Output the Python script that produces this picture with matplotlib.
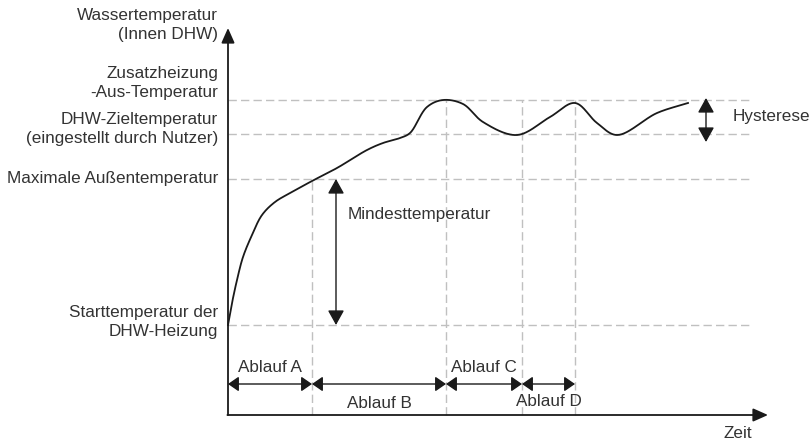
import numpy as np
import matplotlib
matplotlib.use("Agg")
import matplotlib.pyplot as plt

plt.rcParams['font.family'] = ['Liberation Sans', 'DejaVu Sans']

# ---- data (time units / temperature units, schematic) ----
curve_t = [0, 4, 9, 15, 24, 34, 47, 64, 84, 109, 139, 155, 172, 182, 199, 215, 235,
           255, 289, 322, 347, 369, 389, 429, 460]
curve_T = [90, 112, 135, 158, 180, 200, 213, 223, 234, 247, 265, 272, 277, 282, 308,
           315, 311, 293, 280, 298, 312, 292, 280, 302, 312]

level_names = ["Starttemperatur der\nDHW-Heizung", "Maximale Außentemperatur",
               "DHW-Zieltemperatur\n(eingestellt durch Nutzer)",
               "Zusatzheizung\n-Aus-Temperatur"]
level_values = [90, 236, 281, 315]
level_label_pos = [93, 237, 286, 332]

phase_names = ["Ablauf A", "Ablauf B", "Ablauf C", "Ablauf D"]
phase_bounds = [0, 84, 218, 294, 347]

x_end = 540
y_end = 387
grid_end = 525

TXT = '#333333'
GRID = '#c0c0c0'
INK = '#1a1a1a'
FS = 12.3
LS = 1.28


def catmull_rom(x, y, n=30, alpha=0.5):
    P = np.column_stack([np.asarray(x, float), np.asarray(y, float)])
    P = np.vstack([P[0] - (P[1] - P[0]), P, P[-1] + (P[-1] - P[-2])])
    out = []
    for i in range(1, len(P) - 2):
        p0, p1, p2, p3 = P[i - 1], P[i], P[i + 1], P[i + 2]
        t0 = 0.0
        t1 = t0 + np.linalg.norm(p1 - p0) ** alpha
        t2 = t1 + np.linalg.norm(p2 - p1) ** alpha
        t3 = t2 + np.linalg.norm(p3 - p2) ** alpha
        t = np.linspace(t1, t2, n, endpoint=False)[:, None]
        A1 = (t1 - t) / (t1 - t0) * p0 + (t - t0) / (t1 - t0) * p1
        A2 = (t2 - t) / (t2 - t1) * p1 + (t - t1) / (t2 - t1) * p2
        A3 = (t3 - t) / (t3 - t2) * p2 + (t - t2) / (t3 - t2) * p3
        B1 = (t2 - t) / (t2 - t0) * A1 + (t - t0) / (t2 - t0) * A2
        B2 = (t3 - t) / (t3 - t1) * A2 + (t - t1) / (t3 - t1) * A3
        C = (t2 - t) / (t2 - t1) * B1 + (t - t1) / (t2 - t1) * B2
        out.append(C)
    out.append(P[-2][None, :])
    out = np.vstack(out)
    return out[:, 0], out[:, 1]


fig = plt.figure(figsize=(8.11, 4.41), dpi=100)
ax = fig.add_axes([0, 0, 1, 1])
ax.set_xlim(-228, 583)
ax.set_ylim(-26, 415)
ax.axis('off')

# dashed horizontal level lines
for v in level_values:
    ax.plot([0, grid_end], [v, v], color=GRID, lw=1.0, dashes=(6, 3), zorder=1)

# dashed vertical phase lines
for i, b in enumerate(phase_bounds[1:]):
    top = level_values[1] if i == 0 else level_values[3]
    ax.plot([b, b], [0, top], color=GRID, lw=1.0, dashes=(6, 3), zorder=1)

# axes with arrows
ax.annotate('', xy=(0, y_end), xytext=(0, 0),
            arrowprops=dict(arrowstyle='-|>,head_length=0.9,head_width=0.4',
                            color=INK, lw=1.3, shrinkA=0, shrinkB=0))
ax.annotate('', xy=(x_end, 0), xytext=(-0.6, 0),
            arrowprops=dict(arrowstyle='-|>,head_length=0.9,head_width=0.4',
                            color=INK, lw=1.3, shrinkA=0, shrinkB=0))

# curve
cx, cy = catmull_rom(curve_t, curve_T)
ax.plot(cx, cy, color=INK, lw=1.3, zorder=3)

# level labels
for name, yp in zip(level_names, level_label_pos):
    ax.text(-10, yp, name, ha='right', va='center',
            fontsize=FS, color=TXT, linespacing=LS)
ax.text(-10, 390, "Wassertemperatur\n(Innen DHW)", ha='right', va='center',
        fontsize=FS, color=TXT, linespacing=LS)
ax.text(510, -19, "Zeit", ha='center', va='center', fontsize=FS, color=TXT)


# double arrows
def dbl(x0, y0, x1, y1, hl=0.9, hw=0.5):
    ax.annotate('', xy=(x1, y1), xytext=(x0, y0),
                arrowprops=dict(arrowstyle=f'<|-|>,head_length={hl},head_width={hw}',
                                color=INK, lw=1.0, shrinkA=0, shrinkB=0))


dbl(108, level_values[0], 108, level_values[1])
ax.text(120, 201, "Mindesttemperatur", ha='left', va='center', fontsize=FS, color=TXT)

dbl(478, 317, 478, 273)
ax.text(505, 298, "Hysterese", ha='left', va='center', fontsize=FS, color=TXT)

phase_y = 31
for i, name in enumerate(phase_names):
    a, b = phase_bounds[i], phase_bounds[i + 1]
    dbl(a, phase_y, b, phase_y, hl=0.65, hw=0.45)
    mid = (a + b) / 2
    if i % 2 == 0:
        ax.text(mid, phase_y + 16, name, ha='center', va='center', fontsize=FS, color=TXT)
    else:
        ax.text(mid, phase_y - (19 if i == 1 else 18), name, ha='center', va='center',
                fontsize=FS, color=TXT)

fig.savefig('out.png', dpi=100)
